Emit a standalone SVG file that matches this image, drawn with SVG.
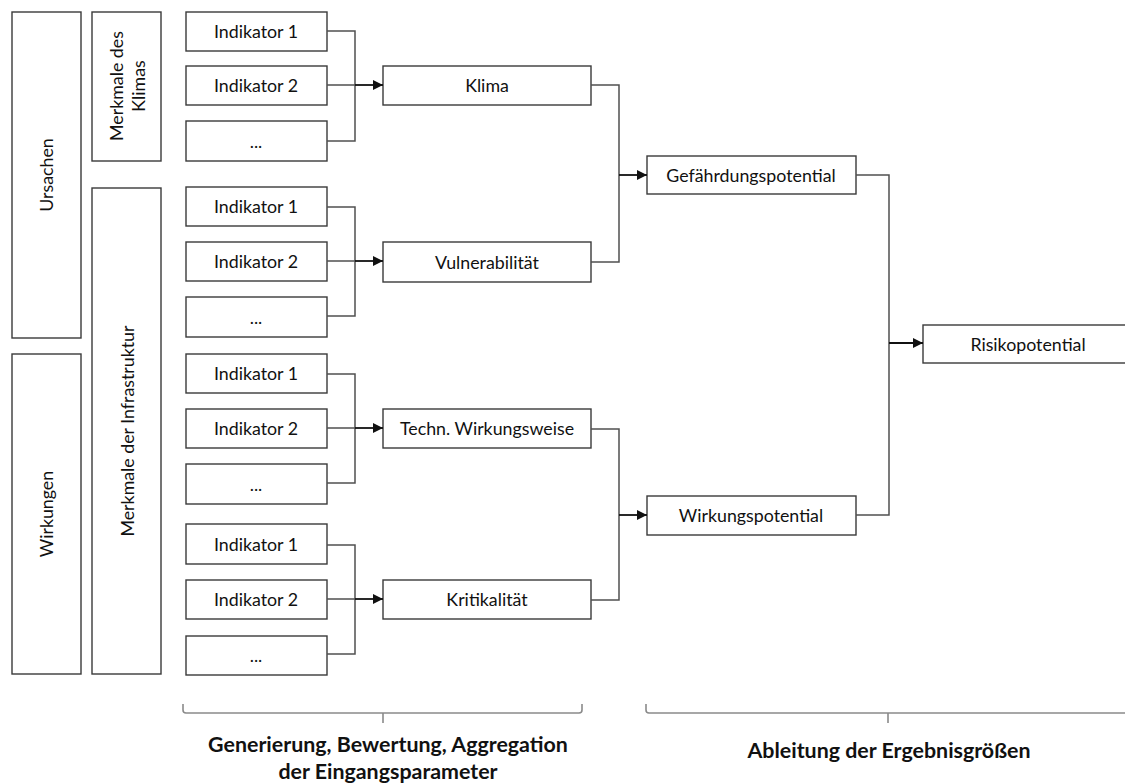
<svg xmlns="http://www.w3.org/2000/svg" width="1125" height="783" viewBox="0 0 1125 783">
<defs>
<style>
.box{fill:#fff;stroke:#3a3a3a;stroke-width:1.4}
.t{font-family:Lato,"Open Sans",sans-serif;font-size:17.8px;fill:#111;text-anchor:middle;dominant-baseline:central}
.b{font-family:Lato,"Open Sans",sans-serif;font-size:21.4px;font-weight:bold;fill:#111;text-anchor:middle}
.ln{fill:none;stroke:#505050;stroke-width:1.5}
.ar{fill:none;stroke:#111;stroke-width:1.8}
.br{fill:none;stroke:#8a8a8a;stroke-width:1.6}
</style>
<marker id="ah" viewBox="0 0 10 10" refX="10" refY="5" markerWidth="11" markerHeight="10" markerUnits="userSpaceOnUse" orient="auto">
<path d="M0,0 L10,5 L0,10 Z" fill="#111"/>
</marker>
</defs>
<rect width="1125" height="783" fill="#fff"/>

<g id="ursachen"><rect class="box" x="12" y="12" width="69" height="326"/><text class="t" transform="translate(46,175) rotate(-90)">Ursachen</text></g>
<g id="wirkungen"><rect class="box" x="12" y="354" width="69" height="320"/><text class="t" transform="translate(46,514) rotate(-90)">Wirkungen</text></g>
<g id="merkmale-klima"><rect class="box" x="92" y="12" width="69" height="149"/><text class="t" transform="translate(116,86) rotate(-90)">Merkmale des</text><text class="t" transform="translate(138,86) rotate(-90)">Klimas</text></g>
<g id="merkmale-infra"><rect class="box" x="92" y="188" width="69" height="486"/><text class="t" transform="translate(127,431) rotate(-90)">Merkmale der Infrastruktur</text></g>

<g id="g1-i1"><rect class="box" x="186" y="12" width="141" height="39"/><text class="t" x="256" y="31">Indikator 1</text></g>
<g id="g1-i2"><rect class="box" x="186" y="66" width="141" height="39"/><text class="t" x="256" y="85">Indikator 2</text></g>
<g id="g1-i3"><rect class="box" x="186" y="121" width="141" height="40"/><text class="t" x="256" y="141">...</text></g>

<g id="g2-i1"><rect class="box" x="186" y="187" width="141" height="39"/><text class="t" x="256" y="206">Indikator 1</text></g>
<g id="g2-i2"><rect class="box" x="186" y="242" width="141" height="39"/><text class="t" x="256" y="261">Indikator 2</text></g>
<g id="g2-i3"><rect class="box" x="186" y="297" width="141" height="40"/><text class="t" x="256" y="317">...</text></g>

<g id="g3-i1"><rect class="box" x="186" y="354" width="141" height="39"/><text class="t" x="256" y="373">Indikator 1</text></g>
<g id="g3-i2"><rect class="box" x="186" y="409" width="141" height="39"/><text class="t" x="256" y="428">Indikator 2</text></g>
<g id="g3-i3"><rect class="box" x="186" y="464" width="141" height="40"/><text class="t" x="256" y="484">...</text></g>

<g id="g4-i1"><rect class="box" x="186" y="524" width="141" height="40"/><text class="t" x="256" y="544">Indikator 1</text></g>
<g id="g4-i2"><rect class="box" x="186" y="580" width="141" height="39"/><text class="t" x="256" y="599">Indikator 2</text></g>
<g id="g4-i3"><rect class="box" x="186" y="636" width="141" height="39"/><text class="t" x="256" y="655">...</text></g>

<g id="klima"><rect class="box" x="383" y="66" width="208" height="39"/><text class="t" x="487" y="85">Klima</text></g>
<g id="vulnerabilitaet"><rect class="box" x="383" y="242" width="208" height="40"/><text class="t" x="487" y="262">Vulnerabilität</text></g>
<g id="techn"><rect class="box" x="383" y="409" width="208" height="39"/><text class="t" x="487" y="428">Techn. Wirkungsweise</text></g>
<g id="kritikalitaet"><rect class="box" x="383" y="580" width="208" height="39"/><text class="t" x="487" y="599">Kritikalität</text></g>

<g id="gefaehrdung"><rect class="box" x="647" y="156" width="209" height="38"/><text class="t" x="751" y="175">Gefährdungspotential</text></g>
<g id="wirkungspotential"><rect class="box" x="647" y="496" width="209" height="39"/><text class="t" x="751" y="515">Wirkungspotential</text></g>
<g id="risiko"><rect class="box" x="923" y="325" width="212" height="38"/><text class="t" x="1028" y="344">Risikopotential</text></g>

<g id="connectors">
<path class="ln" d="M327,31 H355 V141 H327 M327,85 H355"/>
<path class="ar" d="M355,85 H383" marker-end="url(#ah)"/>
<path class="ln" d="M327,207 H355 V316 H327 M327,261 H355"/>
<path class="ar" d="M355,261 H383" marker-end="url(#ah)"/>
<path class="ln" d="M327,374 H355 V483 H327 M327,428 H355"/>
<path class="ar" d="M355,428 H383" marker-end="url(#ah)"/>
<path class="ln" d="M327,545 H355 V654 H327 M327,599 H355"/>
<path class="ar" d="M355,599 H383" marker-end="url(#ah)"/>

<path class="ln" d="M591,85 H619 V262 H591"/>
<path class="ar" d="M619,175 H647" marker-end="url(#ah)"/>
<path class="ln" d="M591,429 H619 V600 H591"/>
<path class="ar" d="M619,515 H647" marker-end="url(#ah)"/>

<path class="ln" d="M856,175 H889 V515 H856"/>
<path class="ar" d="M889,343 H923" marker-end="url(#ah)"/>
</g>

<g id="bracket-left">
<path class="br" d="M183,704 V710 Q183,713 186,713 H579 Q582,713 582,710 V704 M383,713 V723"/>
<text class="b" x="388" y="752">Generierung, Bewertung, Aggregation</text>
<text class="b" x="388" y="779">der Eingangsparameter</text>
</g>
<g id="bracket-right">
<path class="br" d="M646,704 V710 Q646,713 649,713 H1130 M888,713 V723"/>
<text class="b" x="889" y="758">Ableitung der Ergebnisgrößen</text>
</g>
</svg>
